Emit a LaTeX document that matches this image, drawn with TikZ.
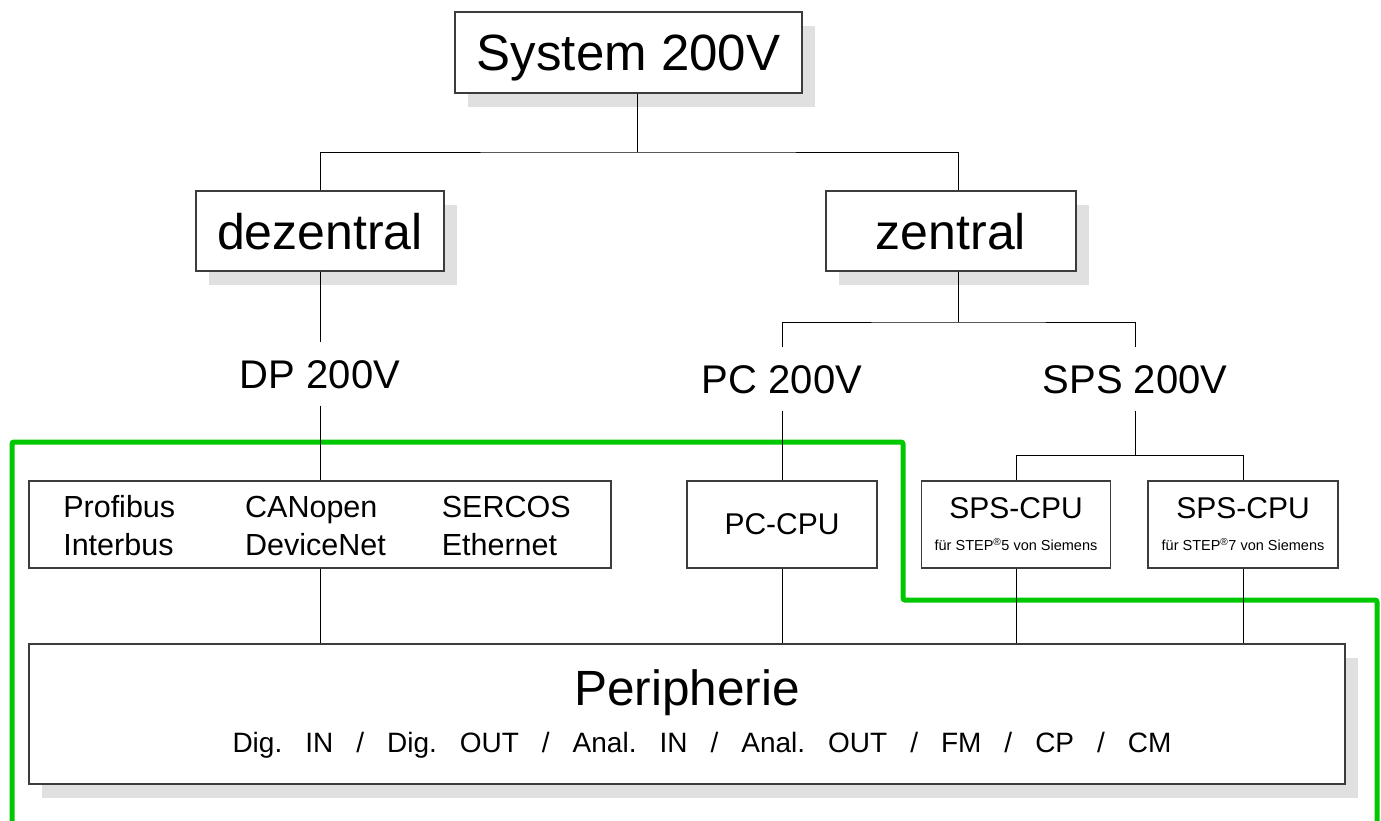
\documentclass[tikz,border=0pt]{standalone}
\usepackage{fontspec}
\setmainfont{Liberation Sans}
\usepackage{xcolor}
\usepackage{tikz}
\usetikzlibrary{positioning,shadows}

\definecolor{boxline}{RGB}{60,60,60}
\definecolor{shade}{RGB}{224,224,224}
\definecolor{zonegreen}{RGB}{0,200,0}

\newcommand{\pgap}{\hspace{23pt}}

\begin{document}
\begin{tikzpicture}[
  x=1pt, y=-1pt,
  box/.style={rectangle, draw=boxline, line width=1.2pt, fill=white, inner sep=0pt, align=center},
  shbox/.style={box, drop shadow={shadow xshift=13pt, shadow yshift=-14pt, fill=shade, opacity=1}},
  big/.style={font=\fontsize{50}{60}\selectfont, text height=36pt, text depth=0pt},
  cpu/.style={box, minimum height=87pt, font=\fontsize{30}{32}\selectfont},
  lbl/.style={font=\fontsize{40}{48}\selectfont, text height=29pt, text depth=0pt, inner xsep=0pt, inner ysep=17pt},
  link/.style={draw=black, line width=0.9pt},
  zone/.style={draw=zonegreen, line width=5pt, rounded corners=2pt}
]
\useasboundingbox (0,0) rectangle (1381,820);

% top levels
\node[shbox, big, font=\fontsize{51}{60}\selectfont, minimum width=347pt, minimum height=81pt] (sys) at (628.5,52.5) {System 200V};
\node[shbox, big, minimum width=248pt, minimum height=80pt] (dez) at (320,231) {dezentral};
\node[shbox, big, minimum width=250pt, minimum height=80pt] (zen) at (951,231) {zentral};

% product lines
\node[lbl] (dp)  at (320,374)  {DP 200V};
\node[lbl] (pc)  at (782,379)  {PC 200V};
\node[lbl] (sps) at (1135,379) {SPS 200V};

% CPUs and bus
\node[box, minimum width=582pt, minimum height=87pt, font=\fontsize{30.5}{38}\selectfont] (bus) at (320,524.5)
  {\begin{tabular}{@{}l@{\hspace{70pt}}l@{\hspace{56pt}}l@{\hspace{6pt}}}
    \rule{0pt}{34.6pt}Profibus & CANopen & SERCOS\\
    Interbus & DeviceNet & Ethernet
  \end{tabular}};
\node[cpu, minimum width=190pt] (pccpu) at (782,524.5) {PC-CPU};
\node[cpu, minimum width=189pt] (spsa) at (1016,524.5)
  {SPS-CPU\\{\fontsize{14.5}{17}\selectfont für STEP\textsuperscript{®}5 von Siemens}};
\node[cpu, minimum width=190pt] (spsb) at (1243,524.5)
  {SPS-CPU\\{\fontsize{14.5}{17}\selectfont für STEP\textsuperscript{®}7 von Siemens}};

% periphery
\node[shbox, minimum width=1316pt, minimum height=140pt, font=\fontsize{28}{47}\selectfont] (peri) at (687,714)
  {{\fontsize{49.5}{50}\selectfont Peripherie}\\
   \hspace*{30pt}Dig.\pgap IN\pgap /\pgap Dig.\pgap OUT\pgap /\pgap Anal.\pgap IN\pgap /\pgap Anal.\pgap OUT\pgap /\pgap FM\pgap /\pgap CP\pgap /\pgap CM};

% green boundary
\draw[zone] (12,821) -- (12,442) -- (903,442) -- (903,600) -- (1377,600) -- (1377,821);

% tree lines
\coordinate (ta) at (637,152);
\coordinate (tb) at (958,322);
\coordinate (tc) at (1135,455);
\draw[link] (sys.south -| ta) -- (ta);
\draw[link] (dez.north) |- (ta) -| (zen.north -| tb);
\draw[link] (dez.south) -- (dp.north);
\draw[link] (zen.south -| tb) -- (tb);
\draw[link] (pc.north) |- (tb) -| (sps.north);
\draw[link] (dp.south) -- (bus.north);
\draw[link] (pc.south) -- (pccpu.north);
\draw[link] (sps.south) -- (tc);
\draw[link] (spsa.north) |- (tc) -| (spsb.north);
\draw[link] (bus.south) -- (peri.north -| bus.south);
\draw[link] (pccpu.south) -- (peri.north -| pccpu.south);
\draw[link] (spsa.south) -- (peri.north -| spsa.south);
\draw[link] (spsb.south) -- (peri.north -| spsb.south);

\end{tikzpicture}
\end{document}
